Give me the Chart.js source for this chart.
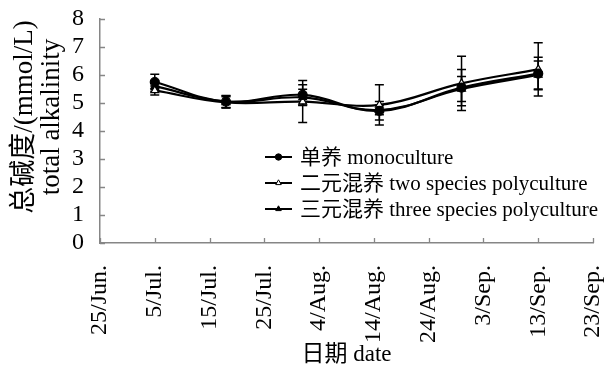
<!DOCTYPE html>
<html>
<head>
<meta charset="utf-8">
<script src="https://cdn.jsdelivr.net/npm/chart.js@4.4.1/dist/chart.umd.min.js"></script>
<style>
  html, body { margin: 0; padding: 0; background: #fff; }
  #wrap { width: 608px; height: 372px; }
</style>
</head>
<body>
<div id="wrap"><canvas id="c" width="608" height="372"></canvas></div>
<script>
// Date axis: days counted from 25 June, one tick label every 10 days
const dateLabels = ['25/Jun.', '5/Jul.', '15/Jul.', '25/Jul.', '4/Aug.', '14/Aug.', '24/Aug.', '3/Sep.', '13/Sep.', '23/Sep.'];
const sampleDays = [10, 23, 37, 51, 66, 80];

// Total alkalinity (mmol/L), mean and standard deviation per sampling day
const monoValues  = [5.75, 5.05, 5.29, 4.72, 5.55, 6.05];
const monoErr     = [0.28, 0.21, 0.36, 0.33, 0.65, 0.58];
const twoValues   = [5.45, 5.02, 5.05, 4.93, 5.70, 6.20];
const twoErr      = [0.16, 0.20, 0.75, 0.72, 0.97, 0.95];
const threeValues = [5.60, 5.05, 5.20, 4.75, 5.50, 6.00];
const threeErr    = [0.20, 0.22, 0.29, 0.17, 0.45, 0.50];

const yTicks = [0, 1, 2, 3, 4, 5, 6, 7, 8];

const seriesNames = ['单养 monoculture', '二元混养 two species polyculture', '三元混养 three species polyculture'];
const yTitleLines = ['总碱度/(mmol/L)', 'total alkalinity'];

const FONT = "'Liberation Serif', 'Noto Sans CJK SC', serif";
const AXIS_GREY = '#868686';

function toPoints(vals) {
  return sampleDays.map((d, i) => ({ x: d, y: vals[i] }));
}

const errors = [monoErr, twoErr, threeErr];

// Error bars with caps, drawn through the scales
const errorBarPlugin = {
  id: 'errorBars',
  beforeDatasetsDraw(chart) {
    const { ctx, scales: { x, y } } = chart;
    ctx.save();
    ctx.strokeStyle = '#000';
    ctx.lineWidth = 1.5;
    chart.data.datasets.forEach((ds, di) => {
      const err = errors[di];
      ds.data.forEach((p, i) => {
        const px = x.getPixelForValue(p.x);
        const top = y.getPixelForValue(p.y + err[i]);
        const bot = y.getPixelForValue(p.y - err[i]);
        ctx.beginPath();
        ctx.moveTo(px, top); ctx.lineTo(px, bot);
        ctx.moveTo(px - 4.5, top); ctx.lineTo(px + 4.5, top);
        ctx.moveTo(px - 4.5, bot); ctx.lineTo(px + 4.5, bot);
        ctx.stroke();
      });
    });
    ctx.restore();
  }
};

// Inward tick marks on both axes
const innerTicksPlugin = {
  id: 'innerTicks',
  afterDraw(chart) {
    const { ctx, chartArea, scales: { x, y } } = chart;
    ctx.save();
    ctx.strokeStyle = AXIS_GREY;
    ctx.lineWidth = 1.3;
    ctx.beginPath();
    x.ticks.forEach(t => {
      const px = Math.round(x.getPixelForValue(t.value)) + 0.5;
      ctx.moveTo(px, chartArea.bottom);
      ctx.lineTo(px, chartArea.bottom - 5);
    });
    y.ticks.forEach(t => {
      const py = Math.round(y.getPixelForValue(t.value)) + 0.5;
      ctx.moveTo(chartArea.left, py);
      ctx.lineTo(chartArea.left + 5, py);
    });
    ctx.stroke();
    ctx.restore();
  }
};

// Two-line vertical title of the value axis
const yTitlePlugin = {
  id: 'yTitle',
  afterDraw(chart) {
    const { ctx, chartArea } = chart;
    const cy = (chartArea.top + chartArea.bottom) / 2 - 14;
    const columns = [25, 52];
    ctx.save();
    ctx.font = '27px ' + FONT;
    ctx.fillStyle = '#000';
    ctx.textAlign = 'center';
    ctx.textBaseline = 'middle';
    yTitleLines.forEach((line, i) => {
      ctx.save();
      ctx.translate(columns[i], cy);
      ctx.rotate(-Math.PI / 2);
      ctx.fillText(line, 0, 0);
      ctx.restore();
    });
    ctx.restore();
  }
};

// Legend placed inside the plot area
const innerLegendPlugin = {
  id: 'innerLegend',
  afterDraw(chart) {
    const { ctx, chartArea } = chart;
    const x0 = chartArea.left + 165;
    const y0 = chartArea.top + 138;
    const gap = 26;
    ctx.save();
    ctx.font = '21px ' + FONT;
    ctx.textBaseline = 'middle';
    ctx.textAlign = 'left';
    chart.data.datasets.forEach((ds, i) => {
      const yy = y0 + i * gap;
      ctx.strokeStyle = '#000';
      ctx.lineWidth = 2;
      ctx.beginPath();
      ctx.moveTo(x0, yy); ctx.lineTo(x0 + 27, yy);
      ctx.stroke();
      ctx.fillStyle = ds.pointBackgroundColor;
      ctx.strokeStyle = '#000';
      ctx.lineWidth = 1;
      Chart.helpers.drawPoint(ctx, { pointStyle: ds.pointStyle, radius: 3.2, rotation: 0, borderWidth: 1 }, x0 + 13.5, yy);
      ctx.fillStyle = '#000';
      ctx.fillText(ds.label, x0 + 35, yy + 1);
    });
    ctx.restore();
  }
};

const lineStyle = {
  borderColor: '#000',
  borderWidth: 2.2,
  pointBorderColor: '#000',
  pointBorderWidth: 1.2,
  pointRadius: 4.5,
  tension: 0.4,
  fill: false
};

new Chart(document.getElementById('c'), {
  type: 'line',
  data: {
    datasets: [
      Object.assign({ label: seriesNames[0], data: toPoints(monoValues), pointStyle: 'circle', pointBackgroundColor: '#000' }, lineStyle),
      Object.assign({ label: seriesNames[1], data: toPoints(twoValues), pointStyle: 'triangle', pointBackgroundColor: '#fff' }, lineStyle),
      Object.assign({ label: seriesNames[2], data: toPoints(threeValues), pointStyle: 'triangle', pointBackgroundColor: '#000' }, lineStyle)
    ]
  },
  options: {
    responsive: false,
    devicePixelRatio: 1,
    animation: false,
    layout: { padding: { top: 19, right: 15, bottom: 0, left: 0 } },
    plugins: { legend: { display: false }, tooltip: { enabled: false } },
    scales: {
      x: {
        type: 'linear',
        min: 0,
        max: 90,
        afterBuildTicks(scale) {
          scale.ticks = dateLabels.map((_, i) => ({ value: i * 10 }));
        },
        afterFit(scale) {
          scale.height = 129;
          scale.paddingLeft = 0;
          scale.paddingRight = 0;
        },
        grid: { display: false },
        border: { display: true, color: AXIS_GREY, width: 1.5 },
        ticks: {
          autoSkip: false,
          minRotation: 90,
          maxRotation: 90,
          padding: 14,
          color: '#000',
          font: { family: FONT, size: 24 },
          callback: (v) => dateLabels[Math.round(v / 10)]
        },
        title: {
          display: true,
          text: '日期 date',
          color: '#000',
          font: { family: FONT, size: 23 },
          padding: { top: 0, bottom: 3 }
        }
      },
      y: {
        min: 0,
        max: 8,
        afterBuildTicks(scale) {
          scale.ticks = yTicks.map(v => ({ value: v }));
        },
        afterFit(scale) {
          scale.width = 100;
          scale.paddingTop = 0;
          scale.paddingBottom = 0;
        },
        grid: { display: false },
        border: { display: true, color: AXIS_GREY, width: 1.5 },
        ticks: {
          autoSkip: false,
          padding: 8,
          color: '#000',
          font: { family: FONT, size: 24 }
        },
        title: { display: false }
      }
    }
  },
  plugins: [errorBarPlugin, innerTicksPlugin, yTitlePlugin, innerLegendPlugin]
});
</script>
</body>
</html>
